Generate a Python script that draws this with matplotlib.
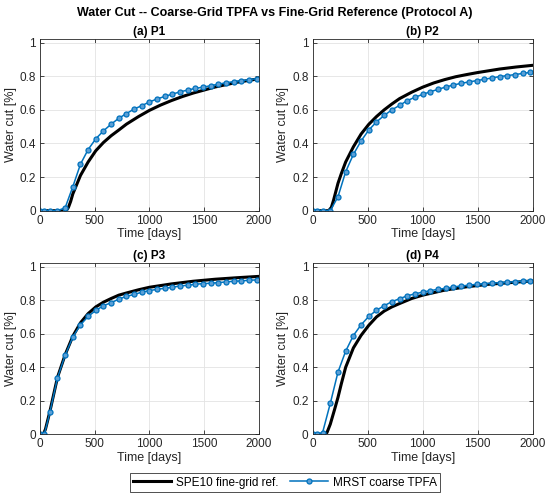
import numpy as np
import matplotlib
matplotlib.use("Agg")
from matplotlib import pyplot as plt

plt.rcParams['font.family'] = ['Liberation Sans', 'DejaVu Sans']

# 粗網格 TPFA 的時間步 (days)
t_coarse = [0, 40, 90, 160, 230, 300, 370, 440, 510, 580, 650, 720, 790, 860, 930,
            1000, 1070, 1140, 1210, 1280, 1350, 1420, 1490, 1560, 1630, 1700, 1770,
            1840, 1910, 1980]

wc_coarse_p1 = [0, 0, 0, 0, 0.018, 0.143, 0.277, 0.364, 0.428, 0.475, 0.515, 0.55,
                0.578, 0.605, 0.625, 0.647, 0.665, 0.68, 0.694, 0.707, 0.718, 0.728,
                0.735, 0.744, 0.753, 0.761, 0.768, 0.774, 0.779, 0.786]
wc_coarse_p2 = [0, 0, 0, 0, 0.083, 0.232, 0.335, 0.415, 0.48, 0.528, 0.567, 0.6,
                0.627, 0.655, 0.675, 0.692, 0.708, 0.722, 0.736, 0.748, 0.758, 0.766,
                0.774, 0.782, 0.79, 0.798, 0.804, 0.81, 0.817, 0.823]
wc_coarse_p3 = [0, 0, 0.13, 0.337, 0.472, 0.58, 0.653, 0.703, 0.739, 0.767, 0.785,
                0.806, 0.823, 0.834, 0.848, 0.857, 0.865, 0.871, 0.877, 0.885, 0.889,
                0.895, 0.899, 0.901, 0.905, 0.909, 0.913, 0.915, 0.919, 0.921]
wc_coarse_p4 = [0, 0, 0.01, 0.184, 0.371, 0.496, 0.589, 0.653, 0.703, 0.74, 0.767,
                0.791, 0.809, 0.826, 0.838, 0.848, 0.857, 0.865, 0.871, 0.879, 0.885,
                0.889, 0.895, 0.899, 0.901, 0.905, 0.907, 0.911, 0.913, 0.917]

# SPE10 細網格參考解
t_fine_p1 = [0, 240, 260, 280, 300, 370, 440, 510, 580, 650, 720, 790, 900, 1000,
             1100, 1200, 1300, 1400, 1600, 1800, 2000]
wc_fine_p1 = [0, 0, 0.02, 0.055, 0.10, 0.21, 0.29, 0.357, 0.406, 0.446, 0.48, 0.515,
              0.56, 0.597, 0.628, 0.655, 0.679, 0.70, 0.736, 0.764, 0.785]
t_fine_p2 = [0, 145, 170, 190, 230, 260, 300, 370, 440, 510, 580, 650, 720, 790, 900,
             1000, 1100, 1200, 1300, 1400, 1500, 1700, 1850, 2000]
wc_fine_p2 = [0, 0, 0.02, 0.063, 0.163, 0.22, 0.29, 0.38, 0.456, 0.514, 0.56, 0.6,
              0.635, 0.667, 0.705, 0.735, 0.76, 0.78, 0.797, 0.81, 0.822, 0.843,
              0.855, 0.865]
t_fine_p3 = [0, 30, 50, 90, 160, 230, 300, 370, 440, 510, 580, 650, 720, 790, 900,
             1000, 1200, 1400, 1600, 1800, 2000]
wc_fine_p3 = [0, 0, 0.03, 0.135, 0.34, 0.475, 0.585, 0.665, 0.72, 0.76, 0.788, 0.81,
              0.83, 0.843, 0.862, 0.877, 0.897, 0.913, 0.925, 0.934, 0.942]
t_fine_p4 = [0, 110, 130, 160, 200, 230, 260, 300, 370, 440, 510, 580, 650, 720, 790,
             900, 1000, 1200, 1400, 1600, 1800, 2000]
wc_fine_p4 = [0, 0, 0.01, 0.06, 0.15, 0.22, 0.30, 0.40, 0.515, 0.59, 0.65, 0.70, 0.735,
              0.76, 0.78, 0.81, 0.83, 0.86, 0.88, 0.895, 0.905, 0.915]

titles = ['(a) P1', '(b) P2', '(c) P3', '(d) P4']
fine = [(t_fine_p1, wc_fine_p1), (t_fine_p2, wc_fine_p2),
        (t_fine_p3, wc_fine_p3), (t_fine_p4, wc_fine_p4)]
coarse = [wc_coarse_p1, wc_coarse_p2, wc_coarse_p3, wc_coarse_p4]

x_ticks = [0, 500, 1000, 1500, 2000]
y_ticks = [0, 0.2, 0.4, 0.6, 0.8, 1]
y_tick_labels = ['0', '0.2', '0.4', '0.6', '0.8', '1']

blue = '#0072BD'
dark = '#262626'

fig = plt.figure(figsize=(5.5, 4.97), dpi=100)
# 子圖位置 (left, bottom, width, height)
pos = [(0.0727, 0.576, 0.398, 0.345), (0.5685, 0.576, 0.400, 0.345),
       (0.0727, 0.1262, 0.398, 0.344), (0.5685, 0.1262, 0.400, 0.344)]

for i in range(4):
    ax = fig.add_axes(pos[i])
    h1, = ax.plot(fine[i][0], fine[i][1], color='black', lw=2.2,
                  solid_joinstyle='round', label='SPE10 fine-grid ref.')
    h2, = ax.plot(t_coarse, coarse[i], color=blue, lw=1.1, marker='o', ms=3.6,
                  mfc='#5b9fd6', mec=blue, mew=0.9, label='MRST coarse TPFA')
    ax.set_xlim(0, 2000)
    ax.set_ylim(0, 1.02)
    ax.set_xticks(x_ticks)
    ax.set_yticks(y_ticks)
    ax.set_yticklabels(y_tick_labels)
    ax.grid(True, color='#e3e3e3', lw=0.6)
    ax.set_axisbelow(True)
    ax.tick_params(direction='in', length=3, width=0.6, labelsize=8.5,
                   colors=dark, top=True, right=True, pad=3)
    for s in ax.spines.values():
        s.set_color(dark)
        s.set_linewidth(0.6)
    ax.set_title(titles[i], fontsize=8.5, fontweight='bold', color='black', pad=3)
    ax.set_xlabel('Time [days]', fontsize=9, color=dark, labelpad=1)
    ax.set_ylabel('Water cut [%]', fontsize=9, color=dark, labelpad=2)

fig.suptitle('Water Cut -- Coarse-Grid TPFA vs Fine-Grid Reference (Protocol A)',
             fontsize=9, fontweight='bold', y=0.986)

leg = fig.legend([h1, h2], ['SPE10 fine-grid ref.', 'MRST coarse TPFA'],
                 loc='center', bbox_to_anchor=(0.518, 0.029), ncol=2,
                 fontsize=8.5, frameon=True, fancybox=False, handlelength=3.2,
                 columnspacing=1.0, borderpad=0.3, handletextpad=0.4)
leg.get_frame().set_edgecolor('black')
leg.get_frame().set_linewidth(0.6)

fig.savefig('out.png', dpi=100)
